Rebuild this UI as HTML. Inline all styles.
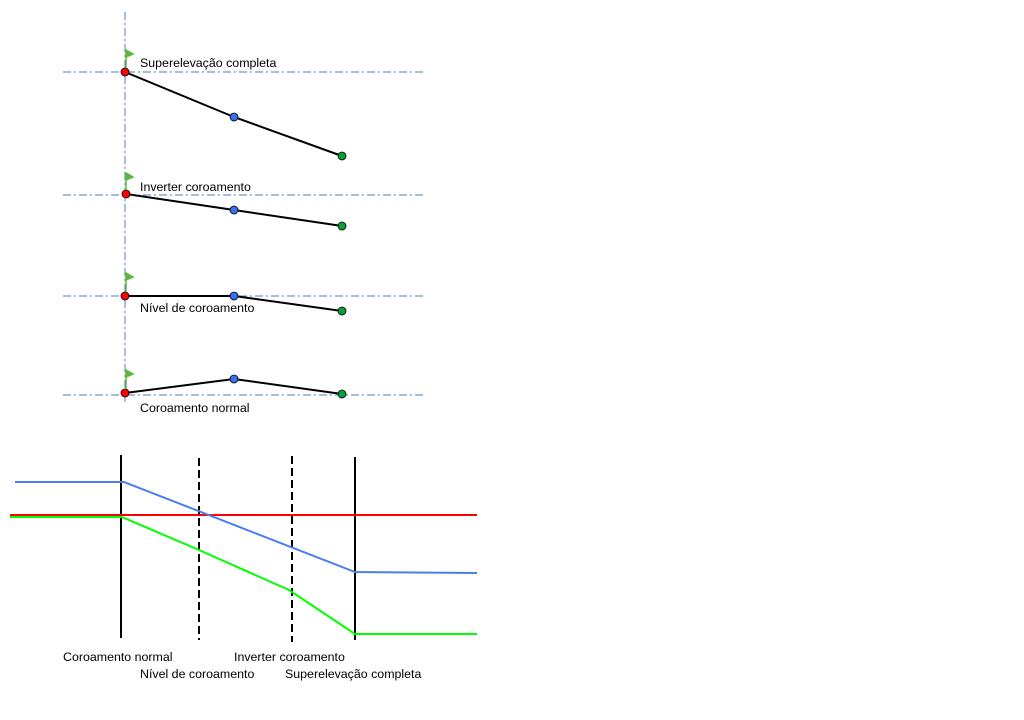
<!DOCTYPE html>
<html><head><style>body{margin:0;background:#fff}svg{display:block}text{font-family:"Liberation Sans",sans-serif;font-size:12.4px;fill:#000}</style></head><body>
<svg width="1024" height="720" viewBox="0 0 1024 720">
<g stroke="#4a7ebb" stroke-width="1" stroke-dasharray="8,3,2,3" fill="none">
<line x1="125" y1="12" x2="125" y2="402"/>
<line x1="63" y1="72" x2="425" y2="72"/>
<line x1="63" y1="195" x2="425" y2="195"/>
<line x1="63" y1="296" x2="425" y2="296"/>
<line x1="63" y1="395" x2="425" y2="395"/>
</g>
<g stroke="#000" stroke-width="2" fill="none">
<polyline points="125,72 234,117 342,156"/>
<polyline points="126,194 234,210 342,226"/>
<polyline points="125,296 234,296 342,311"/>
<polyline points="125,393 234,379 342,394"/>
</g>
<g stroke="#000" stroke-width="0.8">
<circle cx="125" cy="72" r="4" fill="#f00"/><circle cx="234" cy="117" r="4" fill="#3a6ef0"/><circle cx="342" cy="156" r="4" fill="#0a9e3a"/>
<circle cx="126" cy="194" r="4" fill="#f00"/><circle cx="234" cy="210" r="4" fill="#3a6ef0"/><circle cx="342" cy="226" r="4" fill="#0a9e3a"/>
<circle cx="125" cy="296" r="4" fill="#f00"/><circle cx="234" cy="296" r="4" fill="#3a6ef0"/><circle cx="342" cy="311" r="4" fill="#0a9e3a"/>
<circle cx="125" cy="393" r="4" fill="#f00"/><circle cx="234" cy="379" r="4" fill="#3a6ef0"/><circle cx="342" cy="394" r="4" fill="#0a9e3a"/>
</g>
<g fill="#5cb83a" stroke="#5cb83a" stroke-width="1.5">
<line x1="126" y1="50" x2="126" y2="68"/><path d="M126,50 L133,54 L126,57Z"/>
<line x1="126" y1="173" x2="126" y2="190"/><path d="M126,173 L133,177 L126,180Z"/>
<line x1="126" y1="273" x2="126" y2="292"/><path d="M126,273 L133,277 L126,280Z"/>
<line x1="126" y1="370" x2="126" y2="389"/><path d="M126,370 L133,374 L126,377Z"/>
</g>
<text x="140" y="67">Superelevação completa</text>
<text x="140" y="191">Inverter coroamento</text>
<text x="140" y="312">Nível de coroamento</text>
<text x="140" y="412">Coroamento normal</text>
<g stroke="#000" stroke-width="2">
<line x1="121" y1="455" x2="121" y2="638"/>
<line x1="355" y1="457" x2="355" y2="640"/>
<line x1="199" y1="458" x2="199" y2="640" stroke-dasharray="8,4"/>
<line x1="292" y1="456" x2="292" y2="642" stroke-dasharray="8,4"/>
</g>
<g fill="none" stroke-width="2">
<polyline stroke="#f00" points="10,515 477,515"/>
<polyline stroke="#4a7ef0" points="15,482 124,482 355,572 477,573"/>
<polyline stroke="#0f0" points="10,517 122,517 199,550 289,590 355,634 477,634"/>
</g>
<text x="63" y="661">Coroamento normal</text>
<text x="140" y="678">Nível de coroamento</text>
<text x="234" y="661">Inverter coroamento</text>
<text x="285" y="678">Superelevação completa</text>
</svg>
</body></html>
